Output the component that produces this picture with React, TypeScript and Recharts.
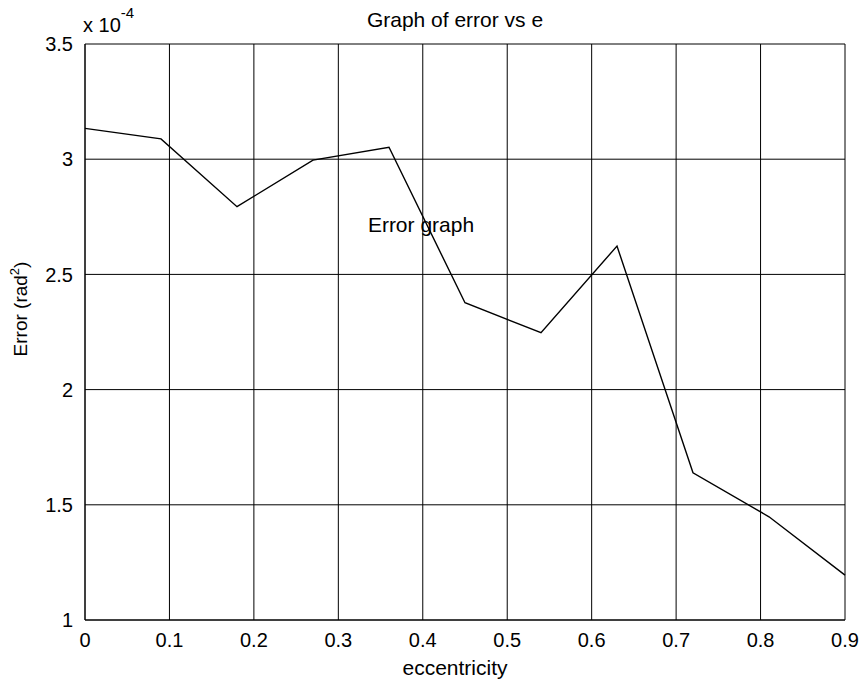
import { LineChart, Line, XAxis, YAxis, CartesianGrid, ReferenceDot } from 'recharts';

const eccentricity = [0, 0.09, 0.18, 0.27, 0.36, 0.45, 0.54, 0.63, 0.72, 0.81, 0.9];
// error in units of 1e-4 rad^2
const errorValues = [3.134, 3.088, 2.794, 2.996, 3.052, 2.377, 2.247, 2.623, 1.639, 1.448, 1.195];
const xTicks = [0, 0.1, 0.2, 0.3, 0.4, 0.5, 0.6, 0.7, 0.8, 0.9];
const yTicks = [1, 1.5, 2, 2.5, 3, 3.5];

const data = eccentricity.map((e, i) => ({ e, err: errorValues[i] }));

const font = '"Liberation Sans", Arial, sans-serif';

function YLabel() {
  const cx = 27;
  const cy = 309;
  return (
    <text
      x={cx}
      y={cy}
      transform={`rotate(-90 ${cx} ${cy})`}
      textAnchor="middle"
      fontSize={19}
      fontFamily={font}
      fill="#000"
    >
      Error (rad<tspan dy={-8} fontSize={13}>2</tspan><tspan dy={8}>)</tspan>
    </text>
  );
}

function XLabel() {
  return (
    <text x={455} y={675} textAnchor="middle" fontSize={21} fontFamily={font} fill="#000">
      eccentricity
    </text>
  );
}

function NoteLabel(props: any) {
  const vb = props.viewBox || {};
  return (
    <text x={vb.x} y={vb.y} textAnchor="start" fontSize={21} fontFamily={font} fill="#000">
      Error graph
    </text>
  );
}

export default function App() {
  return (
    <div style={{ position: 'absolute', left: 0, top: 0, width: 863, height: 681, background: '#fff' }}>
      <svg width={863} height={40} style={{ position: 'absolute', left: 0, top: 0, pointerEvents: 'none', zIndex: 1 }}>
        <text x={455} y={27} textAnchor="middle" fontSize={21} fontFamily={font} fill="#000">
          Graph of error vs e
        </text>
        <text x={83} y={32} fontSize={20} fontFamily={font} fill="#000">
          x 10<tspan dy={-14} fontSize={15}>-4</tspan>
        </text>
      </svg>
      <LineChart
        width={863}
        height={681}
        data={data}
        margin={{ top: 44, right: 18, left: 0, bottom: 0 }}
      >
        <CartesianGrid stroke="#000" strokeWidth={1} />
        <XAxis
          dataKey="e"
          type="number"
          domain={[0, 0.9]}
          ticks={xTicks}
          tickFormatter={(v) => String(v)}
          height={61}
          tickSize={0}
          tickMargin={13}
          axisLine={{ stroke: '#000' }}
          tick={{ fill: '#000', fontSize: 20, fontFamily: font }}
          label={<XLabel />}
        />
        <YAxis
          type="number"
          domain={[1, 3.5]}
          ticks={yTicks}
          tickFormatter={(v) => String(v)}
          width={85}
          tickSize={0}
          tickMargin={12}
          axisLine={{ stroke: '#000' }}
          tick={{ fill: '#000', fontSize: 20, fontFamily: font }}
          label={<YLabel />}
        />
        <Line
          type="linear"
          dataKey="err"
          stroke="#000"
          strokeWidth={1.4}
          dot={false}
          isAnimationActive={false}
        />
        <ReferenceDot x={0.335} y={2.685} r={0} fill="none" stroke="none" label={<NoteLabel />} />
      </LineChart>
    </div>
  );
}
